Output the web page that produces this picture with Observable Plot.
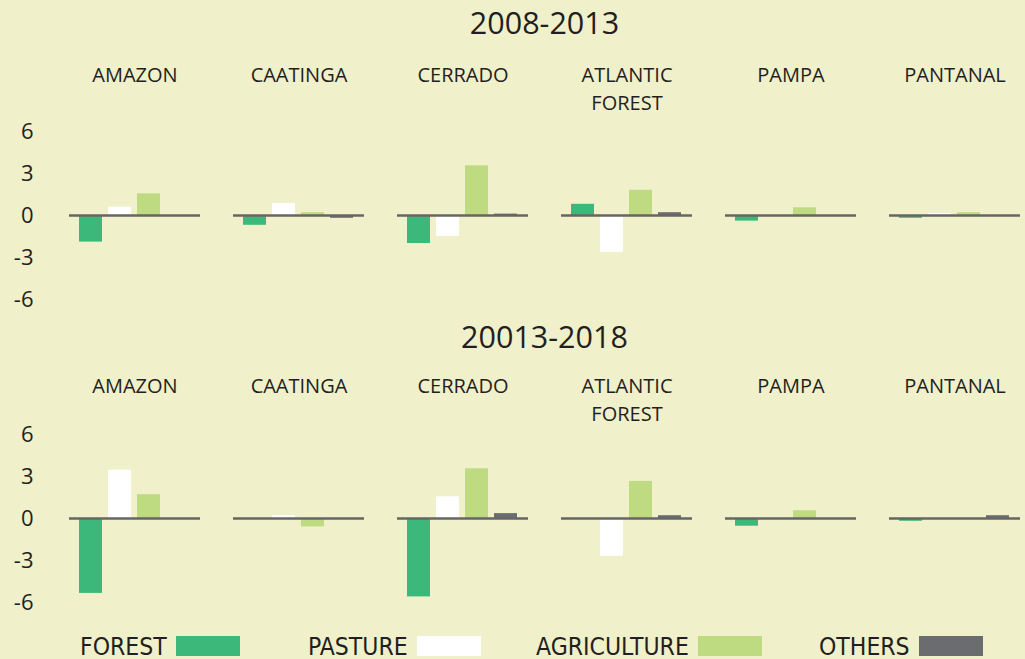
<!DOCTYPE html>
<html><head><meta charset="utf-8">
<script src="https://cdn.jsdelivr.net/npm/d3@7"></script>
<script src="https://cdn.jsdelivr.net/npm/@observablehq/plot@0.6"></script>
<style>
html,body{margin:0;padding:0;background:#f0f0cb;}
body{width:1025px;height:659px;overflow:hidden;position:relative;font-family:"Open Sans",sans-serif;color:#231f20;}
.title{text-align:center;font-size:30.5px;padding-left:67px;padding-right:3px;box-sizing:border-box;width:1025px;}
#t1{height:45px;line-height:45px;}
#t2{height:48px;line-height:48px;}
#legend{position:absolute;left:0;top:620px;width:1025px;height:39px;}
.li{position:absolute;top:0;height:39px;display:flex;align-items:center;font-family:"DejaVu Sans Condensed","DejaVu Sans",sans-serif;font-stretch:condensed;font-size:24.5px;}
.li span.sw{display:inline-block;width:64px;height:20px;margin-left:9px;margin-top:13px;}
.li span.tx{margin-top:14px;}
svg{display:block;}
</style>
</head><body>
<div id="t1" class="title"></div>
<div id="p1"></div>
<div id="t2" class="title"></div>
<div id="p2"></div>
<div id="legend"></div>
<script>
const biomes = ["AMAZON", "CAATINGA", "CERRADO", "ATLANTIC FOREST", "PAMPA", "PANTANAL"];
const categories = ["FOREST", "PASTURE", "AGRICULTURE", "OTHERS"];
const periods = ["2008-2013", "20013-2018"];
const yTicks = [6, 3, 0, -3, -6];

// 2008-2013
const forestA = [-1.9, -0.7, -2.0, 0.8, -0.4, -0.2];
const pastureA = [0.6, 0.85, -1.5, -2.65, 0, 0.15];
const agricultureA = [1.55, 0.2, 3.55, 1.8, 0.55, 0.2];
const othersA = [0, -0.2, 0.1, 0.2, 0, 0];

// 20013-2018
const forestB = [-5.35, 0, -5.6, 0, -0.55, -0.2];
const pastureB = [3.45, 0.2, 1.55, -2.7, 0, 0];
const agricultureB = [1.7, -0.6, 3.55, 2.65, 0.55, 0];
const othersB = [0, 0, 0.35, 0.2, 0, 0.2];

const colors = ["#3cb97a", "#ffffff", "#bedb82", "#6b6c70"];
const legendX = [80, 308, 536, 819];

function rows(series) {
  const out = [];
  biomes.forEach((b, i) => categories.forEach((c, j) => out.push({biome: b, cat: c, value: series[j][i]})));
  return out;
}

function makePlot(data, marginTop, marginBottom, labelDy) {
  return Plot.plot({
    width: 1025,
    height: marginTop + 168 + marginBottom,
    marginLeft: 67, marginRight: 3, marginTop, marginBottom,
    style: {background: "transparent", fontFamily: "'Open Sans', sans-serif", color: "#231f20", overflow: "visible"},
    fx: {domain: biomes, paddingInner: 0.2, paddingOuter: 0, axis: null},
    x: {domain: categories, paddingInner: 0.2, paddingOuter: 0.35, axis: null},
    y: {domain: [-6, 6], axis: null},
    color: {domain: categories, range: colors},
    marks: [
      Plot.axisY({ticks: yTicks, tickSize: 0, tickPadding: 36, fontSize: 22, tickFormat: d => String(d), label: null, fill: "#231f20"}),
      Plot.barY(data, {fx: "biome", x: "cat", y: "value", fill: "cat"}),
      Plot.ruleY([0], {stroke: "#666666", strokeWidth: 2.5}),
      Plot.text(biomes, {fx: d => d, text: d => d.replace(" ", "\n"), frameAnchor: "top", dy: labelDy, lineAnchor: "top", fontSize: 20, lineHeight: 1.38, fill: "#231f20"})
    ]
  });
}

document.getElementById("t1").textContent = periods[0];
document.getElementById("t2").textContent = periods[1];
document.getElementById("p1").appendChild(makePlot(rows([forestA, pastureA, agricultureA, othersA]), 86, 13, -69));
document.getElementById("p2").appendChild(makePlot(rows([forestB, pastureB, agricultureB, othersB]), 74, 18, -61));

const lg = document.getElementById("legend");
categories.forEach((c, i) => {
  const d = document.createElement("div");
  d.className = "li";
  d.style.left = legendX[i] + "px";
  const t = document.createElement("span"); t.className = "tx"; t.textContent = c;
  const s = document.createElement("span"); s.className = "sw"; s.style.background = colors[i];
  d.appendChild(t); d.appendChild(s);
  lg.appendChild(d);
});
</script>
</body></html>
